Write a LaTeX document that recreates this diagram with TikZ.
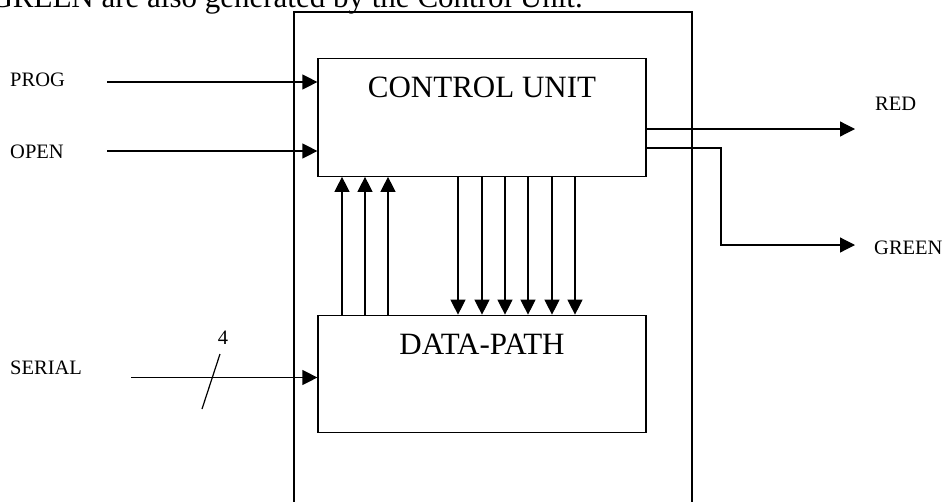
\documentclass[tikz,border=0pt]{standalone}
\usepackage{fontspec}
\setmainfont{Liberation Serif}
\usepackage{tikz}
\usetikzlibrary{arrows.meta, shapes, positioning}

\begin{document}
\begin{tikzpicture}[x=1pt,y=-1pt]
			\tikzstyle{every node} = [font = \fontsize{20.5}{24}\selectfont, inner sep = 0pt]
			\tikzstyle{big} = [font = \fontsize{31}{36}\selectfont]
			\tikzstyle{block} = [draw, rectangle, line width = 1.2pt, minimum width = 328pt, minimum height = 117.5pt]
			\tikzstyle{sig} = [line width = 1.2pt, >={Triangle[length=15pt,width=15pt]}]
				\useasboundingbox (0,0) rectangle (942,501);
				\clip (0,0) rectangle (942,501);
				% line of the text above, cut by the page
				\node[big, anchor = base east] (note) at (583,7.5) {GREEN are also generated by the Control Unit.};
				\node[draw, line width = 1.2pt, minimum width = 398pt, minimum height = 520pt] (chip) at (493,272) {};
				\node[block] (cu) at (482,117.5) {};
				\node[block] (dp) at (482,374) {};
				\node[big, anchor = base] (cutext) at ([yshift=-39.5pt]cu.north) {CONTROL UNIT};
				\node[big, anchor = base] (dptext) at ([yshift=-40pt]dp.north) {DATA-PATH};
				% inputs
				\node[anchor = base west] (prog) at (10,86.5) {PROG};
				\node[anchor = base west] (open) at (10,158) {OPEN};
				\node[anchor = base west] (serial) at (10,374) {SERIAL};
				\coordinate (progin) at (107,82);
				\coordinate (openin) at (107,151);
				\coordinate (serialin) at (131,377.5);
				\path[draw,->,sig] (progin) -- (progin -| cu.west);
				\path[draw,->,sig] (openin) -- (openin -| cu.west);
				\path[draw,->,sig] (serialin) -- (serialin -| dp.west);
				\coordinate (busa) at (202,409);
				\coordinate (busb) at (220,354);
				\path[draw,sig] (busa) -- (busb);
				\node (width) at (223,338) {4};
				% status and control lines
				\foreach \x in {342,365,388}
					\path[draw,->,sig] (\x,0 |- dp.north) -- (\x,0 |- cu.south);
				\foreach \x in {458,482,505,528,552,575}
					\path[draw,->,sig] (\x,0 |- cu.south) -- (\x,0 |- dp.north);
				% outputs
				\node[anchor = base west] (red) at (875,110) {RED};
				\node[anchor = base west] (green) at (874,254) {GREEN};
				\coordinate (redout) at (855,129);
				\coordinate (greenturn) at (721,148);
				\coordinate (greenout) at (855,245);
				\path[draw,->,sig] (redout -| cu.east) -- (redout);
				\path[draw,->,sig] (greenturn -| cu.east) -- (greenturn) |- (greenout);
\end{tikzpicture}
\end{document}
